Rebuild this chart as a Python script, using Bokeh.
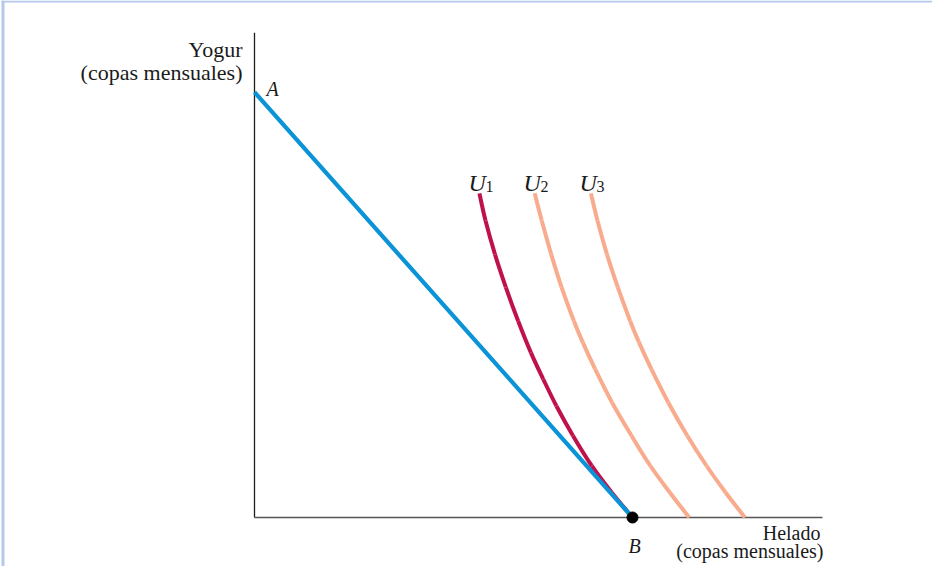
from bokeh.plotting import figure
from bokeh.models import Range1d
from bokeh.core.properties import value
from bokeh.embed import file_html
from bokeh.resources import INLINE

# ---- data (units of ice cream / yogurt cups) ----
budget_x = [0.0, 8.0]
budget_y = [9.0, 0.0]

u1_x = [4.76, 4.89, 5.09, 5.32, 5.58, 5.85, 6.11, 6.39, 6.74, 7.14, 7.56, 8.00]
u1_y = [6.86, 6.28, 5.57, 4.87, 4.16, 3.49, 2.93, 2.36, 1.73, 1.09, 0.53, 0.00]

u2_x = [5.93, 6.08, 6.28, 6.50, 6.76, 6.95, 7.21, 7.57, 7.98, 8.38, 8.79, 9.20]
u2_y = [6.86, 6.28, 5.57, 4.87, 4.16, 3.70, 3.14, 2.43, 1.73, 1.09, 0.53, 0.00]

u3_x = [7.12, 7.26, 7.46, 7.69, 7.95, 8.14, 8.40, 8.76, 9.16, 9.57, 9.97, 10.38]
u3_y = [6.86, 6.28, 5.57, 4.87, 4.16, 3.70, 3.14, 2.43, 1.73, 1.09, 0.53, 0.00]

point_b = (8.0, 0.0)
axis_x_max = 12.02
axis_y_max = 10.26

curve_names = ["U", "U", "U"]
curve_subs = ["1", "2", "3"]

# ---- layout ----
W, H = 932, 566
S = 47.25            # pixels per unit
OX, OY = 254, 517    # origin in figure pixels (from top-left)

def px(ix):  # page x -> data
    return (ix - 8 - OX) / S

def py(iy):  # page y -> data
    return (OY - (iy - 8)) / S

p = figure(width=W, height=H, output_backend="svg", toolbar_location=None,
           x_range=Range1d(-OX / S, (W - OX) / S),
           y_range=Range1d(-(H - OY) / S, OY / S),
           min_border=0, x_axis_location=None, y_axis_location=None,
           outline_line_color=None, background_fill_color="white",
           border_fill_color="white")
p.grid.visible = False


def smooth_curve(xs, ys, color, width):
    """Draw a smooth curve through the read points with cubic Bezier segments."""
    n = len(xs)
    x0, y0, x1, y1, cx0, cy0, cx1, cy1 = ([] for _ in range(8))
    for i in range(n - 1):
        xm, ym = (xs[i - 1], ys[i - 1]) if i > 0 else (xs[i], ys[i])
        xp, yp = (xs[i + 2], ys[i + 2]) if i + 2 < n else (xs[i + 1], ys[i + 1])
        x0.append(xs[i]); y0.append(ys[i])
        x1.append(xs[i + 1]); y1.append(ys[i + 1])
        cx0.append(xs[i] + (xs[i + 1] - xm) / 6); cy0.append(ys[i] + (ys[i + 1] - ym) / 6)
        cx1.append(xs[i + 1] - (xp - xs[i]) / 6); cy1.append(ys[i + 1] - (yp - ys[i]) / 6)
    p.bezier(x0=x0, y0=y0, x1=x1, y1=y1, cx0=cx0, cy0=cy0, cx1=cx1, cy1=cy1,
             line_color=color, line_width=width, line_cap="butt")


# frame border (lavender)
bc = "#b5c7eb"
p.line([px(10.5), px(10.5)], [py(8), py(600)], line_color=bc, line_width=3)
p.line([px(9), px(947)], [py(9), py(9)], line_color=bc, line_width=2)

# axes
p.line([0, 0], [0, axis_y_max], line_color="#1e1e1e", line_width=1.3)
p.line([0, axis_x_max], [0, 0], line_color="#555555", line_width=1.6)

# curves
smooth_curve(u2_x, u2_y, "#f8ab8d", 4)
smooth_curve(u3_x, u3_y, "#f8ab8d", 4)
smooth_curve(u1_x, u1_y, "#c0124a", 4)
p.line(budget_x, budget_y, line_color="#0a93d6", line_width=4.2)
p.scatter([point_b[0]], [point_b[1]], size=11, color="black")

font = value("Liberation Serif")
tc = "#1a1a1a"

# axis titles
p.text([px(250), px(250)], [py(57), py(80)], text=["Yogur", "(copas mensuales)"],
       text_font=font, text_font_size="22px", text_align="right",
       text_baseline="alphabetic", text_color=tc)
p.text([px(828), px(831)], [py(540), py(558)], text=["Helado", "(copas mensuales)"],
       text_font=font, text_font_size="20px", text_align="right",
       text_baseline="alphabetic", text_color=tc)

# point labels
p.text([px(274), px(636)], [py(96), py(553)], text=["A", "B"],
       text_font=font, text_font_size="20px", text_font_style="italic",
       text_baseline="alphabetic", text_color=tc)

# curve labels
ux = [476, 531, 587]
p.text([px(v) for v in ux], [py(190)] * 3, text=curve_names,
       text_font=font, text_font_size="24px", text_font_style="italic",
       text_baseline="alphabetic", text_color=tc)
p.text([px(v + 17) for v in ux], [py(194)] * 3, text=curve_subs,
       text_font=font, text_font_size="16px",
       text_baseline="alphabetic", text_color=tc)

open("out.html", "w").write(file_html(p, INLINE))
